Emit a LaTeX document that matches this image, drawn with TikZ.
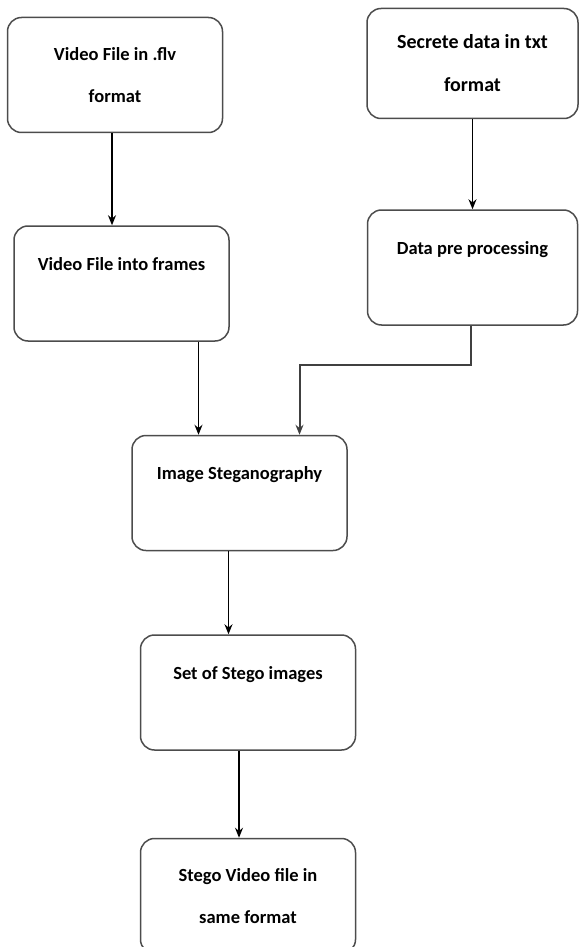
\documentclass[tikz,border=0pt]{standalone}
\usepackage{fontspec}
\setmainfont{Carlito}
\usepackage{tikz}
\usetikzlibrary{arrows.meta,positioning,calc}

\begin{document}
\begin{tikzpicture}[x=1pt, y=-1pt,
    box/.style={rectangle, rounded corners=14pt, draw=black!70, line width=1.5pt,
        minimum width=215pt, minimum height=115pt, inner ysep=0pt, align=center,
        font=\fontsize{18.5}{42}\selectfont\bfseries},
    toptext/.style={text height=44pt, text depth=71pt},
    arrow/.style={-{Stealth[length=10pt,width=8pt]}, line width=1.4pt}]

    \useasboundingbox (0,0) rectangle (579,947);

    \node[box] (video) at (115,75) {Video File in .flv\\format};
    \node[box, minimum width=211pt, minimum height=110pt,
        font=\fontsize{20}{43}\selectfont\bfseries] (secret) at (472.5,63.5) {Secrete data in txt\\format};
    \node[box, toptext, below=92pt of video, xshift=6.5pt] (frames) {Video File into frames};
    \node[box, toptext, minimum width=210pt, below=90pt of secret] (prep) {Data pre processing};
    \node[box, toptext] (steg) at (239.5,493) {Image Steganography};
    \node[box, toptext, below=83pt of steg, xshift=8.5pt] (stegoimg) {Set of Stego images};
    \node[box, below=87pt of stegoimg] (stegovid) {Stego Video file in\\same format};

    \draw[arrow] ([xshift=-3pt]video.south) -- ([xshift=-3pt]video.south |- frames.north);
    \draw[arrow] (secret.south) -- (secret.south |- prep.north);
    \draw[arrow] ([xshift=77pt]frames.south) -- ([xshift=77pt]frames.south |- steg.north);
    \draw[arrow, draw=black!75, line width=2pt] ([xshift=-2pt]prep.south) -- ++(0,39) -| ([xshift=60pt]steg.north);
    \draw[arrow] ([xshift=-11pt]steg.south) -- ([xshift=-11pt]steg.south |- stegoimg.north);
    \draw[arrow] ([xshift=-9pt]stegoimg.south) -- ([xshift=-9pt]stegoimg.south |- stegovid.north);
\end{tikzpicture}
\end{document}
